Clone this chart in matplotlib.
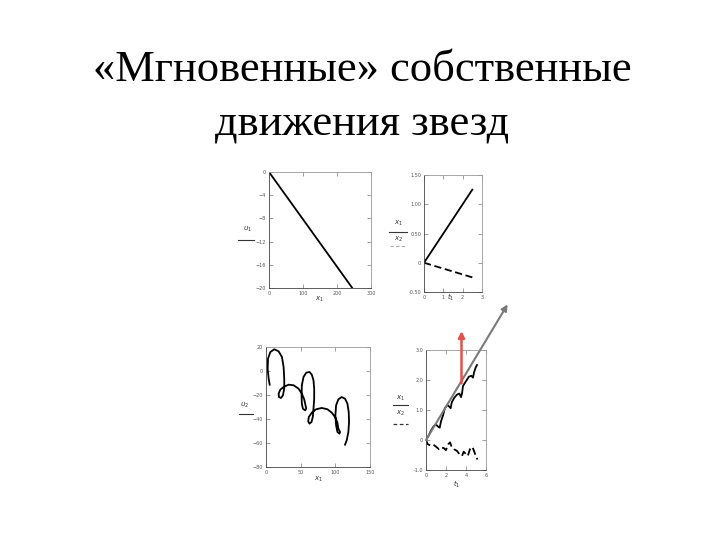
import numpy as np
import matplotlib
matplotlib.use("Agg")
import matplotlib.pyplot as plt

# Title text
title_1 = "«Мгновенные» собственные"
title_2 = "движения звезд"

# Panel 1: straight decreasing line
p1_x = [0, 245]
p1_y = [0, -20]
p1_xticks = [0, 100, 200, 300]
p1_yticks = [0, -4, -8, -12, -16, -20]

# Panel 2: solid and dashed straight lines
p2_t = [0, 2.5]
p2_solid = [0, 1.25]
p2_dashed = [0, -0.25]
p2_xticks = [0, 1, 2, 3]
p2_yticks = [-0.5, 0, 0.5, 1.0, 1.5]
p2_ylabels = ["-0.50", "0", "0.50", "1.00", "1.50"]

# Panel 3: looping trajectory
p3_x = [5.3, 3.8, 2.4, 2.9, 6.2, 12.0, 18.2, 23.0, 25.4, 26.3, 26.3, 24.4,
        21.6, 18.7, 18.2, 20.6, 25.4, 32.6, 39.8, 46.9, 51.7, 55.1, 57.0,
        58.0, 56.5, 53.2, 51.7, 51.3, 51.7, 54.1, 58.0, 62.7, 66.1, 68.5,
        69.5, 69.5, 68.5, 67.5, 65.6, 62.7, 60.8, 61.8, 66.1, 72.3, 80.5,
        88.6, 94.8, 99.6, 103.0, 104.4, 106.8, 105.9, 103.0, 101.1, 100.1,
        101.1, 104.4, 109.2, 114.0, 117.4, 119.3, 119.8, 118.8, 116.4, 114.0]
p3_y = [-11.4, -6.4, 1.9, 10.3, 15.8, 18.1, 16.4, 11.7, 3.3, -6.4, -14.7,
        -20.3, -22.5, -21.7, -18.9, -15.6, -13.3, -11.4, -11.9, -14.7, -18.9,
        -23.6, -28.6, -31.4, -32.8, -31.4, -27.2, -20.3, -11.9, -5.0, -1.4,
        -0.8, -3.1, -7.8, -14.7, -23.1, -31.4, -38.3, -42.5, -43.9, -41.9,
        -38.3, -34.7, -31.9, -30.8, -31.9, -34.7, -38.3, -43.1, -48.1, -50.8,
        -52.2, -50.8, -45.3, -36.9, -28.6, -23.6, -21.7, -23.1, -27.2, -34.2,
        -42.5, -50.8, -57.8, -61.4]
p3_xticks = [0, 50, 100, 150]
p3_yticks = [20, 0, -20, -40, -60, -80]

# Panel 4: wiggly solid and dashed curves
p4_ts = [0, 0.27, 0.51, 0.75, 0.96, 1.2, 1.37, 1.5, 1.71, 1.89, 2.13, 2.33,
         2.47, 2.57, 2.81, 3.09, 3.33, 3.5, 3.6, 3.7, 3.94, 4.29, 4.53, 4.7,
         4.8, 4.97, 5.1]
p4_solid = [0, 0.15, 0.32, 0.45, 0.52, 0.45, 0.41, 0.62, 0.83, 1.06, 1.17,
            1.11, 1.06, 1.25, 1.40, 1.51, 1.55, 1.43, 1.55, 1.80, 1.93, 2.11,
            2.14, 2.08, 2.25, 2.42, 2.5]
p4_td = [0, 0.17, 0.51, 0.75, 1.03, 1.3, 1.54, 1.78, 1.99, 2.23, 2.4, 2.57,
         2.81, 3.09, 3.36, 3.6, 3.77, 3.94, 4.18, 4.39, 4.63, 4.8, 4.97, 5.15]
p4_dashed = [0, -0.14, -0.19, -0.16, -0.23, -0.31, -0.25, -0.27, -0.34,
             -0.14, -0.08, -0.23, -0.31, -0.36, -0.48, -0.53, -0.39, -0.45,
             -0.53, -0.31, -0.23, -0.36, -0.53, -0.65]
p4_xticks = [0, 2, 4, 6]
p4_yticks = [-1, 0, 1, 2, 3]
p4_ylabels = ["-1.0", "0", "1.0", "2.0", "3.0"]
gray_arrow = [(0, 0), (8.16, 4.52)]
red_arrow = [(3.55, 1.89), (3.55, 3.63)]

W, H = 720, 540
fig = plt.figure(figsize=(7.2, 5.4), dpi=100)
fig.patch.set_facecolor("white")


def px_axes(left, top, right, bottom):
    return fig.add_axes([left / W, 1 - bottom / H, (right - left) / W, (bottom - top) / H])


def style(ax):
    for s in ax.spines.values():
        s.set_linewidth(0.6)
        s.set_color("#999999")
    ax.spines["left"].set_color("#444444")
    ax.spines["bottom"].set_color("#444444")
    ax.tick_params(direction="in", top=True, right=True, length=3, width=0.5,
                   labelsize=3.5, labelcolor="#555555", color="#777777", pad=2)


def ftext(x, y, s, **kw):
    fig.text(x / W, 1 - y / H, s, ha="center", va="center", **kw)


def fline(x0, x1, y, **kw):
    fig.add_artist(plt.Line2D([x0 / W, x1 / W], [1 - y / H, 1 - y / H], **kw))


# title
ftext(362, 70, title_1, family="Liberation Serif", fontsize=32)
ftext(362, 125, title_2, family="Liberation Serif", fontsize=32)

# panel 1
ax1 = px_axes(269, 172, 371, 288)
ax1.plot(p1_x, p1_y, color="black", lw=1.3)
ax1.set_xlim(0, 300)
ax1.set_ylim(-20, 0)
ax1.set_xticks(p1_xticks)
ax1.set_yticks(p1_yticks)
style(ax1)
ftext(248, 229, "$u_1$", fontsize=5, color="#333333")
fline(238, 254, 240, color="#333333", lw=0.8)
ftext(319, 299, "$x_1$", fontsize=5, color="#333333")

# panel 2
ax2 = px_axes(424, 175, 482, 292)
ax2.plot(p2_t, p2_solid, color="black", lw=1.3)
ax2.plot(p2_t, p2_dashed, color="black", lw=1.3, dashes=(4, 2))
ax2.set_xlim(0, 3)
ax2.set_ylim(-0.5, 1.5)
ax2.set_xticks(p2_xticks)
ax2.set_yticks(p2_yticks)
ax2.set_yticklabels(p2_ylabels)
style(ax2)
ftext(398, 223, "$x_1$", fontsize=5, color="#333333")
fline(389, 407, 232, color="#333333", lw=0.8)
ftext(398, 239, "$x_2$", fontsize=5, color="#333333")
fline(390, 406, 246, color="#aaaaaa", lw=0.8, dashes=(3, 2))
ftext(451, 297, "$t_1$", fontsize=5, color="#333333")

# panel 3
ax3 = px_axes(266, 347, 370, 467)
ax3.plot(p3_x, p3_y, color="black", lw=1.3)
ax3.set_xlim(0, 150)
ax3.set_ylim(-80, 20)
ax3.set_xticks(p3_xticks)
ax3.set_yticks(p3_yticks)
style(ax3)
ftext(245, 405, "$u_2$", fontsize=5, color="#333333")
fline(239, 253, 414, color="#333333", lw=0.8)
ftext(318, 479, "$x_1$", fontsize=5, color="#333333")

# panel 4
ax4 = px_axes(426, 350, 486, 470)
ax4.plot(p4_ts, p4_solid, color="black", lw=1.3)
ax4.plot(p4_td, p4_dashed, color="black", lw=1.3, dashes=(4, 2))
ax4.set_xlim(0, 6)
ax4.set_ylim(-1, 3)
ax4.set_xticks(p4_xticks)
ax4.set_yticks(p4_yticks)
ax4.set_yticklabels(p4_ylabels)
style(ax4)
ax4.annotate("", xy=gray_arrow[1], xytext=gray_arrow[0], annotation_clip=False,
             arrowprops=dict(arrowstyle="-|>", color="#7a7a7a", lw=1.5,
                             mutation_scale=9, shrinkA=0, shrinkB=0))
ax4.annotate("", xy=red_arrow[1], xytext=red_arrow[0], annotation_clip=False,
             arrowprops=dict(arrowstyle="-|>", color="#e0524a", lw=1.8,
                             mutation_scale=9, shrinkA=0, shrinkB=0))
ftext(400, 398, "$x_1$", fontsize=5, color="#333333")
fline(393, 408, 405, color="#333333", lw=0.8)
ftext(400, 413, "$x_2$", fontsize=5, color="#333333")
fline(393, 408, 424, color="#333333", lw=0.9, dashes=(3, 2))
ftext(457, 484, "$t_1$", fontsize=5, color="#333333")

fig.savefig("out.png", dpi=100, facecolor="white")
